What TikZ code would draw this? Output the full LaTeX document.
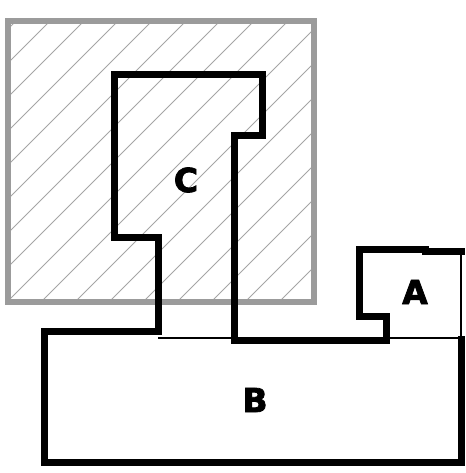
\documentclass[tikz,border=0pt]{standalone}
\usepackage{fontspec}
\newfontfamily\lblfont{DejaVu Sans}[BoldFont={DejaVu Sans Bold},BoldFeatures={FakeBold=2.5}]
\begin{document}
\begin{tikzpicture}[x=1pt,y=-1pt,
  wall/.style={line width=7pt,line join=miter,black},
  thinwall/.style={line width=1.1pt,black},
  zone/.style={line width=6.5pt,draw={rgb,255:red,155;green,155;blue,155}},
  hatchline/.style={line width=0.8pt,draw={rgb,255:red,165;green,165;blue,165}},
  lbl/.style={font=\lblfont\bfseries\fontsize{33}{33}\selectfont,inner sep=0pt}]
\useasboundingbox (0,0) rectangle (465,473);
% hatched zone
\begin{scope}
  \clip (8,21) rectangle (314,302);
  \foreach \c in {3,37,...,650} {
    \draw[hatchline] (\c,0) -- (\c-330,330);
  }
\end{scope}
\draw[zone] (8,21) rectangle (314,302);
% thin lines
\draw[thinwall] (158,338) -- (234,338);
\draw[thinwall] (390,338) -- (461,338);
\draw[thinwall] (461,251) -- (461,338);
% walls
\draw[wall] (461,336) -- (461,462) -- (44,462) -- (44,331) -- (158,331) -- (158,237) -- (114,237) -- (114,75) -- (262,75) -- (262,136) -- (234,136) -- (234,340) -- (386,340) -- (386,316) -- (359,316) -- (359,249) -- (425,249) -- (425,251) -- (465,251);
% labels
\node[lbl] (labelC) at (186,180) {C};
\node[lbl] (labelB) at (255,400) {B};
\node[lbl] (labelA) at (415,292) {A};
\end{tikzpicture}
\end{document}
